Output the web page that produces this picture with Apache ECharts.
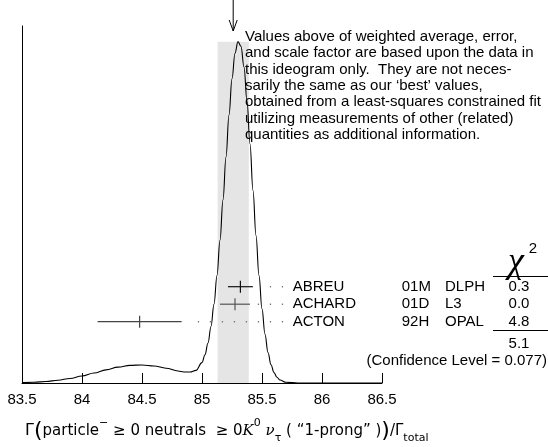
<!DOCTYPE html>
<html><head><meta charset="utf-8">
<script src="https://cdn.jsdelivr.net/npm/echarts@6/dist/echarts.min.js"></script>
<style>html,body{margin:0;padding:0;background:#fff}#c{width:548px;height:447px}</style>
</head><body><div id="c"></div>
<script>
// ---- data ----
const xTicks = [83.5, 84, 84.5, 85, 85.5, 86, 86.5];
const names = ['ABREU', 'ACHARD', 'ACTON'];
const refs = ['01M', '01D', '92H'];
const expts = ['DLPH', 'L3', 'OPAL'];
const values = [85.32, 85.275, 84.48];
const errors = [0.104, 0.125, 0.35];
const chi2 = ['0.3', '0.0', '4.8'];
const chi2Total = '5.1';
const confLevel = '0.077';
const average = 85.26;
const averageErr = 0.13;
const curveX = [83.5,83.6,83.7,83.8,83.9,84.0,84.1,84.2,84.3,84.4,84.5,84.6,84.7,84.8,84.85,84.9,84.95,85.0,85.025,85.05,85.075,85.1,85.125,85.15,85.175,85.2,85.225,85.25,85.275,85.3,85.325,85.35,85.375,85.4,85.425,85.45,85.475,85.5,85.525,85.55,85.575,85.6,85.625,85.65,85.7,85.8,85.9,86.0,86.5];
const curveY = [0.001,0.0021,0.0042,0.0077,0.0128,0.0198,0.0281,0.0368,0.0444,0.0494,0.0505,0.0477,0.0415,0.0336,0.031,0.031,0.0355,0.0572,0.0791,0.1119,0.1582,0.2209,0.3016,0.3999,0.5130,0.6331,0.7505,0.8519,0.9237,0.9562,0.9430,0.8851,0.7897,0.6696,0.5392,0.4133,0.3007,0.2079,0.1366,0.0855,0.0511,0.0292,0.0159,0.0083,0.0020,0.0001,0,0,0];

// ---- style / layout ----
const FONT = '"Liberation Sans", Arial, sans-serif';
const rowTop = 286.7, rowStep = 17.5;
const barColors = ['#111', '#555', '#444'];
const dotGridEnd = 85.67, dotStep = 0.1, dotGap = 0.06;

const chart = echarts.init(document.getElementById('c'), null, {renderer: 'canvas'});
const bandTop = Math.max.apply(null, curveY);

chart.setOption({
  animation: false,
  backgroundColor: '#fff',
  grid: {left: 22, top: 26, width: 360, height: 357},
  xAxis: {
    type: 'value', min: xTicks[0], max: xTicks[xTicks.length - 1], interval: 0.5,
    axisLine: {show: true, lineStyle: {color: '#000', width: 1}},
    axisTick: {show: true, inside: true, length: 10, lineStyle: {color: '#000', width: 1}},
    axisLabel: {show: true, color: '#000', fontSize: 15, fontFamily: FONT, margin: 9,
      formatter: v => String(v)},
    splitLine: {show: false}
  },
  yAxis: {
    type: 'value', min: 0, max: 1,
    axisLine: {show: true, lineStyle: {color: '#000', width: 1}},
    axisTick: {show: false}, axisLabel: {show: false}, splitLine: {show: false}
  },
  series: [
    {
      type: 'line', z: 1, data: [], silent: true,
      markArea: {silent: true, itemStyle: {color: '#e5e5e5'},
        data: [[{xAxis: average - averageErr, yAxis: 0}, {xAxis: average + averageErr, yAxis: bandTop}]]}
    },
    {
      type: 'line', z: 3, silent: true,
      data: curveX.map((x, i) => [x, curveY[i]]),
      smooth: 0.4, smoothMonotone: 'x', showSymbol: false,
      lineStyle: {color: '#000', width: 1.1}
    },
    {
      type: 'custom', z: 4, silent: true,
      data: values.map((v, i) => [v, errors[i], i]),
      renderItem: function (params, api) {
        const v = api.value(0), e = api.value(1), i = api.value(2);
        const y = rowTop + i * rowStep;
        const pL = api.coord([v - e, 0])[0];
        const pR = api.coord([v + e, 0])[0];
        const pC = api.coord([v, 0])[0];
        const col = barColors[i];
        const children = [
          {type: 'line', shape: {x1: pL, y1: y, x2: pR, y2: y}, style: {stroke: col, lineWidth: 1.2}},
          {type: 'line', shape: {x1: pC, y1: y - 6, x2: pC, y2: y + 6}, style: {stroke: col, lineWidth: 1.2}}
        ];
        for (let d = dotGridEnd; d > v + e + dotGap; d -= dotStep) {
          const px = api.coord([d, 0])[0];
          children.push({type: 'rect', shape: {x: px - 0.6, y: y - 0.6, width: 1.3, height: 1.3},
            style: {fill: '#666'}});
        }
        return {type: 'group', children: children};
      }
    }
  ]
});

// ---- annotations ----
const ax = chart.convertToPixel({xAxisIndex: 0}, average);
const g = [];
function txt(text, x, y, opts) {
  g.push({type: 'text', x: x, y: y, z: 100, silent: true, style: Object.assign({
    text: text, fill: '#000', font: '15px ' + FONT, textAlign: 'left', textVerticalAlign: 'middle'
  }, opts || {})});
}
// arrow at the weighted average
g.push({type: 'line', z: 100, silent: true, shape: {x1: ax, y1: 0, x2: ax, y2: 31}, style: {stroke: '#000', lineWidth: 1}});
g.push({type: 'polyline', z: 100, silent: true, shape: {points: [[ax - 4, 20], [ax, 31], [ax + 4, 20]]}, style: {stroke: '#000', lineWidth: 1, fill: null}});
// note
txt('Values above of weighted average, error,\nand scale factor are based upon the data in\nthis ideogram only.  They are not neces-\nsarily the same as our \u2018best\u2019 values,\nobtained from a least-squares constrained fit\nutilizing measurements of other (related)\nquantities as additional information.',
  245, 28.5, {textVerticalAlign: 'top', lineHeight: 16.4});
// table
names.forEach((n, i) => {
  const y = rowTop + i * rowStep;
  txt(n, 292.7, y);
  txt(refs[i], 401.7, y);
  txt(expts[i], 445, y);
  txt(chi2[i], 519, y, {textAlign: 'center'});
});
txt('\u03c7', 516, 263, {textAlign: 'center', font: 'italic 36px "Liberation Serif", serif'});
txt('2', 533, 249, {textAlign: 'center', font: '15px ' + FONT});
g.push({type: 'line', z: 100, silent: true, shape: {x1: 493, y1: 276.5, x2: 548, y2: 276.5}, style: {stroke: '#000', lineWidth: 1}});
g.push({type: 'line', z: 100, silent: true, shape: {x1: 493, y1: 330.5, x2: 548, y2: 330.5}, style: {stroke: '#000', lineWidth: 1}});
txt(chi2Total, 519, 344, {textAlign: 'center'});
txt('(Confidence Level = ' + confLevel + ')', 547, 361, {textAlign: 'right'});
// x-axis quantity
g.push({type: 'text', x: 25, y: 431, z: 100, silent: true, style: {
  text: '{g|\u0393}{p|(}{t|particle}{sup|\u2212}{t| \u2265 0 neutrals  \u2265 0}{it|K}{sup|0}{it| \u03bd}{sub|\u03c4}{t| ( \u201c1-prong\u201d )}{p|)}{t|/\u0393}{sub|total}',
  textVerticalAlign: 'middle', fill: '#000',
  rich: {
    g: {fontSize: 16, fontFamily: '"DejaVu Sans"', lineHeight: 26, verticalAlign: 'middle'},
    p: {fontSize: 22, fontFamily: '"DejaVu Sans"', lineHeight: 26, verticalAlign: 'middle'},
    t: {fontSize: 15, fontFamily: '"DejaVu Sans"', lineHeight: 26, verticalAlign: 'middle'},
    it: {fontSize: 15, fontStyle: 'italic', fontFamily: '"DejaVu Serif"', lineHeight: 26, verticalAlign: 'middle'},
    sup: {fontSize: 11, fontFamily: '"DejaVu Sans"', lineHeight: 14, verticalAlign: 'top'},
    sub: {fontSize: 11, fontFamily: '"DejaVu Sans"', lineHeight: 16, verticalAlign: 'bottom'}
  }
}});
chart.setOption({graphic: g});
</script></body></html>
